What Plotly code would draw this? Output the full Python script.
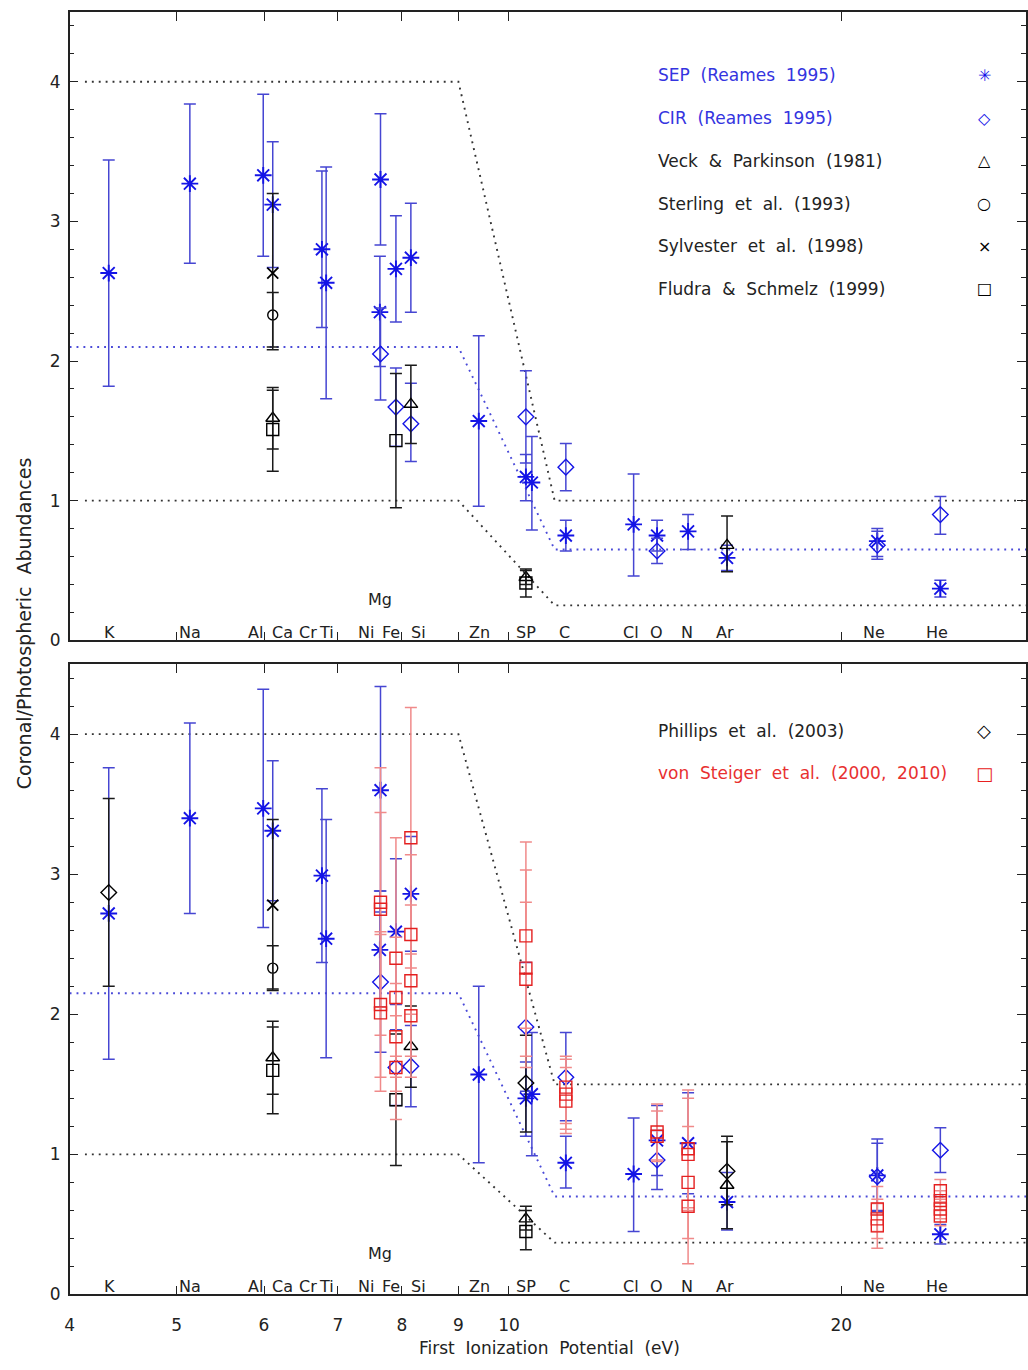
import math
import plotly.graph_objects as go

# ---------------- data ----------------
FIP = {'K': 4.34, 'Na': 5.14, 'Al': 5.99, 'Ca': 6.11, 'Cr': 6.77, 'Ti': 6.83,
       'Ni': 7.64, 'Mg': 7.65, 'Fe': 7.90, 'Si': 8.15, 'Zn': 9.39, 'S': 10.36,
       'P': 10.49, 'C': 11.26, 'Cl': 12.97, 'O': 13.62, 'N': 14.53, 'Ar': 15.76,
       'Ne': 21.56, 'He': 24.59}

# top panel
top_sep_el = ['K', 'Na', 'Al', 'Ca', 'Cr', 'Ti', 'Mg', 'Ni', 'Fe', 'Si', 'Zn', 'S', 'P', 'C', 'Cl', 'O', 'N', 'Ar', 'Ne', 'He']
top_sep_val = [2.63, 3.27, 3.33, 3.12, 2.80, 2.56, 3.30, 2.35, 2.66, 2.74, 1.57, 1.17, 1.13, 0.75, 0.83, 0.75, 0.78, 0.59, 0.71, 0.37]
top_sep_lo = [1.82, 2.70, 2.75, 2.67, 2.24, 1.73, 2.83, 1.96, 2.28, 2.35, 0.96, 1.00, 0.79, 0.64, 0.46, 0.64, 0.65, 0.50, 0.60, 0.31]
top_sep_hi = [3.44, 3.84, 3.91, 3.57, 3.36, 3.39, 3.77, 2.75, 3.04, 3.13, 2.18, 1.33, 1.46, 0.86, 1.19, 0.86, 0.90, 0.68, 0.80, 0.43]

top_cir_el = ['Mg', 'Fe', 'Si', 'S', 'C', 'O', 'Ne', 'He']
top_cir_val = [2.05, 1.67, 1.55, 1.60, 1.24, 0.64, 0.68, 0.90]
top_cir_lo = [1.72, 1.39, 1.28, 1.27, 1.07, 0.55, 0.58, 0.76]
top_cir_hi = [2.38, 1.95, 1.84, 1.93, 1.41, 0.73, 0.78, 1.03]

top_veck_el = ['Ca', 'Si', 'S', 'Ar']
top_veck_val = [1.59, 1.69, 0.45, 0.68]
top_veck_lo = [1.37, 1.41, 0.40, 0.49]
top_veck_hi = [1.81, 1.97, 0.51, 0.89]

top_ster_el = ['Ca']
top_ster_val = [2.33]
top_ster_lo = [2.10]
top_ster_hi = [2.49]

top_sylv_el = ['Ca']
top_sylv_val = [2.63]
top_sylv_lo = [2.08]
top_sylv_hi = [3.20]

top_flud_el = ['Ca', 'Fe', 'S']
top_flud_val = [1.51, 1.43, 0.41]
top_flud_lo = [1.21, 0.95, 0.31]
top_flud_hi = [1.79, 1.91, 0.50]

# bottom panel
bot_sep_el = ['K', 'Na', 'Al', 'Ca', 'Cr', 'Ti', 'Mg', 'Ni', 'Fe', 'Si', 'Zn', 'S', 'P', 'C', 'Cl', 'O', 'N', 'Ar', 'Ne', 'He']
bot_sep_val = [2.72, 3.40, 3.47, 3.31, 2.99, 2.54, 3.60, 2.46, 2.59, 2.86, 1.57, 1.40, 1.43, 0.94, 0.86, 1.10, 1.08, 0.66, 0.85, 0.43]
bot_sep_lo = [1.68, 2.72, 2.62, 2.81, 2.37, 1.69, 2.88, 2.05, 2.07, 2.45, 0.94, 1.13, 0.99, 0.76, 0.45, 0.85, 0.72, 0.46, 0.59, 0.36]
bot_sep_hi = [3.76, 4.08, 4.32, 3.81, 3.61, 3.39, 4.34, 2.88, 3.11, 3.27, 2.20, 1.66, 1.87, 1.13, 1.26, 1.35, 1.44, 0.87, 1.11, 0.50]

bot_cir_el = ['Mg', 'Fe', 'Si', 'S', 'C', 'O', 'Ne', 'He']
bot_cir_val = [2.23, 1.62, 1.63, 1.91, 1.55, 0.96, 0.84, 1.03]
bot_cir_lo = [1.73, 1.35, 1.34, 1.45, 1.24, 0.75, 0.60, 0.87]
bot_cir_hi = [2.73, 1.89, 1.92, 2.37, 1.87, 1.17, 1.08, 1.19]

bot_phil_el = ['K', 'S', 'Ar']
bot_phil_val = [2.87, 1.51, 0.88]
bot_phil_lo = [2.20, 1.16, 0.64]
bot_phil_hi = [3.54, 1.85, 1.13]

bot_veck_el = ['Ca', 'Si', 'S', 'Ar']
bot_veck_val = [1.69, 1.77, 0.54, 0.78]
bot_veck_lo = [1.43, 1.48, 0.46, 0.47]
bot_veck_hi = [1.95, 2.06, 0.63, 1.09]

bot_ster_el = ['Ca']
bot_ster_val = [2.33]
bot_ster_lo = [2.18]
bot_ster_hi = [2.49]

bot_sylv_el = ['Ca']
bot_sylv_val = [2.78]
bot_sylv_lo = [2.17]
bot_sylv_hi = [3.39]

bot_flud_el = ['Ca', 'Fe', 'S']
bot_flud_val = [1.60, 1.39, 0.45]
bot_flud_lo = [1.29, 0.92, 0.32]
bot_flud_hi = [1.91, 1.86, 0.60]

bot_vst_el = ['Mg', 'Mg', 'Mg', 'Mg', 'Fe', 'Fe', 'Fe', 'Fe', 'Si', 'Si', 'Si', 'Si',
              'S', 'S', 'S', 'C', 'C', 'C', 'O', 'O', 'N', 'N', 'N', 'N',
              'Ne', 'Ne', 'Ne', 'He', 'He', 'He', 'He']
bot_vst_val = [2.80, 2.75, 2.07, 2.01, 2.40, 2.12, 1.84, 1.62, 3.26, 2.57, 2.24, 1.99,
               2.56, 2.33, 2.25, 1.48, 1.43, 1.38, 1.16, 1.13, 1.04, 1.00, 0.80, 0.63,
               0.61, 0.54, 0.49, 0.74, 0.67, 0.61, 0.56]
bot_vst_lo = [1.85, 2.05, 1.55, 1.45, 1.55, 1.70, 1.45, 1.25, 2.33, 2.00, 1.70, 1.55,
              1.90, 1.62, 1.70, 1.22, 1.18, 1.15, 0.96, 0.95, 0.62, 0.60, 0.40, 0.22,
              0.45, 0.40, 0.33, 0.66, 0.60, 0.54, 0.49]
bot_vst_hi = [3.76, 3.44, 2.59, 2.57, 3.26, 2.55, 2.22, 1.99, 4.19, 3.14, 2.78, 2.43,
              3.23, 3.03, 2.80, 1.70, 1.68, 1.62, 1.36, 1.31, 1.46, 1.40, 1.20, 1.04,
              0.77, 0.68, 0.65, 0.82, 0.74, 0.68, 0.63]

# FIP-bias model lines (dotted)
model_x_black = [4.13, 9.0, 11.0, 30.0]
model_x_blue = [4.0, 9.0, 11.0, 30.0]
top_upper = [4.0, 4.0, 1.0, 1.0]
top_mid = [2.1, 2.1, 0.65, 0.65]
top_lower = [1.0, 1.0, 0.25, 0.25]
bot_upper = [4.0, 4.0, 1.5, 1.5]
bot_mid = [2.15, 2.15, 0.70, 0.70]
bot_lower = [1.0, 1.0, 0.37, 0.37]

# element labels along the bottom of each panel
label_text = ['K', 'Na', 'Al', 'Ca', 'Cr', 'Ti', 'Ni', 'Fe', 'Si', 'Zn', 'SP', 'C', 'Cl', 'O', 'N', 'Ar', 'Ne', 'He']
label_x = [4.35, 5.14, 5.90, 6.23, 6.58, 6.84, 7.42, 7.82, 8.28, 9.40, 10.36, 11.23, 12.91, 13.59, 14.50, 15.69, 21.41, 24.40]
mg_label_x = 7.64

x_tickvals = [4, 5, 6, 7, 8, 9, 10, 20]
x_ticktext = ['4', '5', '6', '7', '8', '9', '10', '20']
y_tickvals = [0, 1, 2, 3, 4]

top_legend = [('SEP\u00a0 (Reames\u00a0 1995)', '#3434e0', '\u2733', '#1010e8'),
              ('CIR\u00a0 (Reames\u00a0 1995)', '#3434e0', '\u25c7', '#1010e8'),
              ('Veck\u00a0 &\u00a0 Parkinson\u00a0 (1981)', '#222222', '\u25b3', '#000000'),
              ('Sterling\u00a0 et\u00a0 al.\u00a0 (1993)', '#222222', '\u25cb', '#000000'),
              ('Sylvester\u00a0 et\u00a0 al.\u00a0 (1998)', '#222222', '\u00d7', '#000000'),
              ('Fludra\u00a0 &\u00a0 Schmelz\u00a0 (1999)', '#222222', '\u25a1', '#000000')]
bot_legend = [('Phillips\u00a0 et\u00a0 al.\u00a0 (2003)', '#222222', '\u25c7', '#000000'),
              ('von\u00a0 Steiger\u00a0 et\u00a0 al.\u00a0 (2000,\u00a0 2010)', '#e83030', '\u25a1', '#e82020')]

# ---------------- styling ----------------
BLUE_M = '#1414e6'
BLUE_E = '#4646d2'
BLACK_M = '#000000'
BLACK_E = '#1a1a1a'
RED_M = '#e42020'
RED_E = '#f08a8a'
FONT = 'DejaVu Sans'

W, H = 1028, 1370
XL, XR = 65, 1027
TOP_T, TOP_B = 12, 645
BOT_T, BOT_B = 669, 1304

fig = go.Figure()


def add_series(els, vals, lo, hi, symbol, mcolor, ecolor, size, lw, row):
    xs = [FIP[e] for e in els]
    plus = [h - v for h, v in zip(hi, vals)]
    minus = [v - l for v, l in zip(vals, lo)]
    ax = 'x' if row == 1 else 'x2'
    ay = 'y' if row == 1 else 'y2'
    fig.add_trace(go.Scatter(
        x=xs, y=vals, mode='markers', xaxis=ax, yaxis=ay, showlegend=False,
        marker=dict(symbol=symbol, size=size, color=mcolor,
                    line=dict(color=mcolor, width=lw)),
        error_y=dict(type='data', symmetric=False, array=plus, arrayminus=minus,
                     color=ecolor, thickness=1.5, width=6),
        cliponaxis=False))


def add_model(xv, yv, color, row):
    ax = 'x' if row == 1 else 'x2'
    ay = 'y' if row == 1 else 'y2'
    fig.add_trace(go.Scatter(x=xv, y=yv, mode='lines', xaxis=ax, yaxis=ay, showlegend=False,
                             line=dict(color=color, width=1.9, dash='1.9px,5px')))


# model lines
add_model(model_x_black, top_upper, '#333333', 1)
add_model(model_x_blue, top_mid, '#4a4ad8', 1)
add_model(model_x_black, top_lower, '#333333', 1)
add_model(model_x_black, bot_upper, '#333333', 2)
add_model(model_x_blue, bot_mid, '#4a4ad8', 2)
add_model(model_x_black, bot_lower, '#333333', 2)

# top panel series
add_series(top_sep_el, top_sep_val, top_sep_lo, top_sep_hi, 'asterisk', BLUE_M, BLUE_E, 14, 1.9, 1)
add_series(top_cir_el, top_cir_val, top_cir_lo, top_cir_hi, 'diamond-open', BLUE_M, BLUE_E, 12, 1.4, 1)
add_series(top_veck_el, top_veck_val, top_veck_lo, top_veck_hi, 'triangle-up-open', BLACK_M, BLACK_E, 12, 1.4, 1)
add_series(top_ster_el, top_ster_val, top_ster_lo, top_ster_hi, 'circle-open', BLACK_M, BLACK_E, 10, 1.4, 1)
add_series(top_sylv_el, top_sylv_val, top_sylv_lo, top_sylv_hi, 'x-thin', BLACK_M, BLACK_E, 11, 1.8, 1)
add_series(top_flud_el, top_flud_val, top_flud_lo, top_flud_hi, 'square-open', BLACK_M, BLACK_E, 12, 1.4, 1)

# bottom panel series
add_series(bot_sep_el, bot_sep_val, bot_sep_lo, bot_sep_hi, 'asterisk', BLUE_M, BLUE_E, 14, 1.9, 2)
add_series(bot_cir_el, bot_cir_val, bot_cir_lo, bot_cir_hi, 'diamond-open', BLUE_M, BLUE_E, 12, 1.4, 2)
add_series(bot_phil_el, bot_phil_val, bot_phil_lo, bot_phil_hi, 'diamond-open', BLACK_M, BLACK_E, 12, 1.4, 2)
add_series(bot_veck_el, bot_veck_val, bot_veck_lo, bot_veck_hi, 'triangle-up-open', BLACK_M, BLACK_E, 12, 1.4, 2)
add_series(bot_ster_el, bot_ster_val, bot_ster_lo, bot_ster_hi, 'circle-open', BLACK_M, BLACK_E, 10, 1.4, 2)
add_series(bot_sylv_el, bot_sylv_val, bot_sylv_lo, bot_sylv_hi, 'x-thin', BLACK_M, BLACK_E, 11, 1.8, 2)
add_series(bot_flud_el, bot_flud_val, bot_flud_lo, bot_flud_hi, 'square-open', BLACK_M, BLACK_E, 12, 1.4, 2)
add_series(bot_vst_el, bot_vst_val, bot_vst_lo, bot_vst_hi, 'square-open', RED_M, RED_E, 12, 1.4, 2)

# ---------------- axes ----------------
xdom = [XL / W, XR / W]
top_dom = [1 - TOP_B / H, 1 - TOP_T / H]
bot_dom = [1 - BOT_B / H, 1 - BOT_T / H]
xrange = [math.log10(4), math.log10(29.4)]

common_x = dict(type='log', range=xrange, domain=xdom, tickvals=x_tickvals, ticktext=x_ticktext,
                ticks='inside', ticklen=9, tickwidth=1.3, tickcolor='#222222', mirror='ticks',
                showline=True, linecolor='#222222', linewidth=1.5, showgrid=False, zeroline=False,
                ticklabelstandoff=14,
                tickfont=dict(family=FONT, size=17, color='#222222'))
common_y = dict(range=[0, 4.5], tickvals=y_tickvals, ticks='inside', ticklen=9, tickwidth=1.3,
                tickcolor='#222222', mirror='ticks', showline=True, linecolor='#222222', linewidth=1.5,
                showgrid=False, zeroline=False, ticklabelstandoff=4,
                minor=dict(dtick=0.2, tick0=0, ticks='inside', ticklen=5, tickcolor='#222222', showgrid=False),
                tickfont=dict(family=FONT, size=17, color='#222222'))

fig.update_layout(
    width=W, height=H, margin=dict(l=0, r=0, t=0, b=0),
    paper_bgcolor='white', plot_bgcolor='white',
    xaxis=dict(common_x, anchor='y', showticklabels=False),
    yaxis=dict(common_y, domain=top_dom, anchor='x'),
    xaxis2=dict(common_x, anchor='y2', showticklabels=True),
    yaxis2=dict(common_y, domain=bot_dom, anchor='x2'),
)

annotations = []
for xr, yr in (('x', 'y'), ('x2', 'y2')):
    for t, xv in zip(label_text, label_x):
        annotations.append(dict(x=math.log10(xv), y=0.0, xref=xr, yref=yr, text=t, showarrow=False,
                                yanchor='bottom', xanchor='center', yshift=-4,
                                font=dict(family=FONT, size=16, color='#222222')))
    annotations.append(dict(x=math.log10(mg_label_x), y=0.29, xref=xr, yref=yr, text='Mg', showarrow=False,
                            yanchor='middle', xanchor='center',
                            font=dict(family=FONT, size=16, color='#222222')))

# legends (text + symbol)
for i, (txt, tcol, sym, scol) in enumerate(top_legend):
    ypx = 76 + 43 * i
    annotations.append(dict(x=655 / W, y=1 - ypx / H, xref='paper', yref='paper', text=txt, showarrow=False,
                            xanchor='left', yanchor='middle', font=dict(family=FONT, size=17, color=tcol)))
    annotations.append(dict(x=985 / W, y=1 - ypx / H, xref='paper', yref='paper', text=sym, showarrow=False,
                            xanchor='center', yanchor='middle', font=dict(family=FONT, size=16, color=scol)))
for i, (txt, tcol, sym, scol) in enumerate(bot_legend):
    ypx = 736 + 43 * i
    annotations.append(dict(x=655 / W, y=1 - ypx / H, xref='paper', yref='paper', text=txt, showarrow=False,
                            xanchor='left', yanchor='middle', font=dict(family=FONT, size=17, color=tcol)))
    annotations.append(dict(x=985 / W, y=1 - ypx / H, xref='paper', yref='paper', text=sym, showarrow=False,
                            xanchor='center', yanchor='middle', font=dict(family=FONT, size=18, color=scol)))

# axis titles
annotations.append(dict(x=20 / W, y=1 - 628 / H, xref='paper', yref='paper',
                        text='Coronal/Photospheric\u00a0 Abundances', textangle=-90, showarrow=False,
                        xanchor='center', yanchor='middle', font=dict(family=FONT, size=19, color='#222222')))
annotations.append(dict(x=548 / W, y=1 - 1362 / H, xref='paper', yref='paper',
                        text='First\u00a0 Ionization\u00a0 Potential\u00a0 (eV)', showarrow=False,
                        xanchor='center', yanchor='bottom', yshift=-8,
                        font=dict(family=FONT, size=17, color='#222222')))

fig.update_layout(annotations=annotations)
fig.write_html('out.html')
